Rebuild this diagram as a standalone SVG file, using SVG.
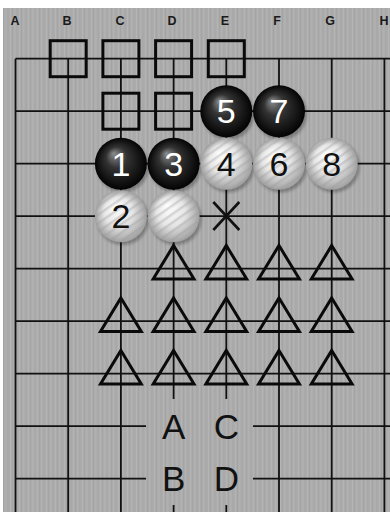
<svg xmlns="http://www.w3.org/2000/svg" width="390" height="512" viewBox="0 0 390 512">
<style>
.grid line{stroke:#111;stroke-width:1.8}
.col{font-family:"Liberation Sans",Arial,sans-serif;font-size:12.5px;font-weight:bold;fill:#1a1a1a;text-anchor:middle}
.sq{fill:none;stroke:#0a0a0a;stroke-width:3}
.tri{fill:none;stroke:#0a0a0a;stroke-width:3;stroke-linejoin:miter}
.num{font-family:"Liberation Sans",Arial,sans-serif;font-size:34px;text-anchor:middle}
.wn{fill:#fff}
.bn{fill:#111}
.lab{font-family:"Liberation Sans",Arial,sans-serif;font-size:35px;fill:#111;text-anchor:middle}
.sh{fill:#000;opacity:0.28}
</style>
<defs>
<pattern id="wood" width="9" height="20" patternUnits="userSpaceOnUse">
<rect width="9" height="20" fill="#acacac"/>
<rect x="1" width="1" height="20" fill="#b4b4b4"/>
<rect x="3" width="1" height="20" fill="#a4a4a4"/>
<rect x="5" width="1.5" height="20" fill="#b1b1b1"/>
<rect x="7.5" width="1" height="20" fill="#a6a6a6"/>
</pattern>
<radialGradient id="bg" cx="0.5" cy="0.5" r="0.5" fx="0.36" fy="0.3">
<stop offset="0" stop-color="#8c8c8c"/>
<stop offset="0.4" stop-color="#333"/>
<stop offset="1" stop-color="#030303"/>
</radialGradient>
<radialGradient id="wg" cx="0.5" cy="0.5" r="0.5" fx="0.38" fy="0.3">
<stop offset="0" stop-color="#ffffff"/>
<stop offset="0.55" stop-color="#e6e6e6"/>
<stop offset="1" stop-color="#a0a0a0"/>
</radialGradient>
<pattern id="stripe" width="7" height="7" patternUnits="userSpaceOnUse" patternTransform="rotate(-35)">
<rect width="7" height="2.5" fill="#9a9a9a" opacity="0.35"/>
</pattern>
<filter id="blur" x="-20%" y="-20%" width="140%" height="140%"><feGaussianBlur stdDeviation="1.5"/></filter>
</defs>

<g id="board">
<rect width="390" height="512" fill="#fff"/>
<rect x="3" y="8" width="387" height="504" fill="url(#wood)"/>
</g>

<g id="columns">
<text class="col" x="15" y="25">A</text>
<text class="col" x="67" y="25">B</text>
<text class="col" x="120" y="25">C</text>
<text class="col" x="172" y="25">D</text>
<text class="col" x="225" y="25">E</text>
<text class="col" x="277" y="25">F</text>
<text class="col" x="330" y="25">G</text>
<text class="col" x="384" y="25">H</text>
</g>

<g id="connectors" class="grid">
<line x1="15.5" y1="58.7" x2="390" y2="58.7"/>
<line x1="15.5" y1="111.2" x2="390" y2="111.2"/>
<line x1="15.5" y1="163.7" x2="390" y2="163.7"/>
<line x1="15.5" y1="216.2" x2="390" y2="216.2"/>
<line x1="15.5" y1="268.7" x2="390" y2="268.7"/>
<line x1="15.5" y1="321.2" x2="390" y2="321.2"/>
<line x1="15.5" y1="373.7" x2="390" y2="373.7"/>
<line x1="15.5" y1="426.2" x2="146" y2="426.2"/>
<line x1="253" y1="426.2" x2="390" y2="426.2"/>
<line x1="15.5" y1="478.7" x2="146" y2="478.7"/>
<line x1="253" y1="478.7" x2="390" y2="478.7"/>
<line x1="15.5" y1="58.7" x2="15.5" y2="512"/>
<line x1="68.2" y1="58.7" x2="68.2" y2="512"/>
<line x1="120.9" y1="58.7" x2="120.9" y2="512"/>
<line x1="173.6" y1="58.7" x2="173.6" y2="399"/>
<line x1="173.6" y1="505" x2="173.6" y2="512"/>
<line x1="226.3" y1="58.7" x2="226.3" y2="399"/>
<line x1="226.3" y1="505" x2="226.3" y2="512"/>
<line x1="279" y1="58.7" x2="279" y2="512"/>
<line x1="331.7" y1="58.7" x2="331.7" y2="512"/>
<line x1="384.4" y1="58.7" x2="384.4" y2="512"/>
</g>

<g id="squares">
<rect id="sq-B1" class="sq" x="50.2" y="40.7" width="36" height="36"/>
<rect id="sq-C1" class="sq" x="102.9" y="40.7" width="36" height="36"/>
<rect id="sq-D1" class="sq" x="155.6" y="40.7" width="36" height="36"/>
<rect id="sq-E1" class="sq" x="208.3" y="40.7" width="36" height="36"/>
<rect id="sq-C2" class="sq" x="102.9" y="93.2" width="36" height="36"/>
<rect id="sq-D2" class="sq" x="155.6" y="93.2" width="36" height="36"/>
</g>

<g id="stone-5"><circle class="sh" cx="228.3" cy="114" r="26" filter="url(#blur)"/><circle cx="226.3" cy="111.2" r="26" fill="url(#bg)"/><text class="num wn" x="226.3" y="123.4">5</text></g>
<g id="stone-7"><circle class="sh" cx="281" cy="114" r="26" filter="url(#blur)"/><circle cx="279" cy="111.2" r="26" fill="url(#bg)"/><text class="num wn" x="279" y="123.4">7</text></g>

<g id="stone-1"><circle class="sh" cx="122.9" cy="166.5" r="26" filter="url(#blur)"/><circle cx="120.9" cy="163.7" r="26" fill="url(#bg)"/><text class="num wn" x="120.9" y="175.9">1</text></g>
<g id="stone-3"><circle class="sh" cx="175.6" cy="166.5" r="26" filter="url(#blur)"/><circle cx="173.6" cy="163.7" r="26" fill="url(#bg)"/><text class="num wn" x="173.6" y="175.9">3</text></g>
<g id="stone-4"><circle class="sh" cx="228.3" cy="166.5" r="26" filter="url(#blur)"/><circle cx="226.3" cy="163.7" r="26" fill="url(#wg)"/><circle cx="226.3" cy="163.7" r="26" fill="url(#stripe)"/><text class="num bn" x="226.3" y="175.9">4</text></g>
<g id="stone-6"><circle class="sh" cx="281" cy="166.5" r="26" filter="url(#blur)"/><circle cx="279" cy="163.7" r="26" fill="url(#wg)"/><circle cx="279" cy="163.7" r="26" fill="url(#stripe)"/><text class="num bn" x="279" y="175.9">6</text></g>
<g id="stone-8"><circle class="sh" cx="333.7" cy="166.5" r="26" filter="url(#blur)"/><circle cx="331.7" cy="163.7" r="26" fill="url(#wg)"/><circle cx="331.7" cy="163.7" r="26" fill="url(#stripe)"/><text class="num bn" x="331.7" y="175.9">8</text></g>

<g id="stone-2"><circle class="sh" cx="122.9" cy="219" r="26" filter="url(#blur)"/><circle cx="120.9" cy="216.2" r="26" fill="url(#wg)"/><circle cx="120.9" cy="216.2" r="26" fill="url(#stripe)"/><text class="num bn" x="120.9" y="228.4">2</text></g>
<g id="stone-D4"><circle class="sh" cx="175.6" cy="219" r="26" filter="url(#blur)"/><circle cx="173.6" cy="216.2" r="26" fill="url(#wg)"/><circle cx="173.6" cy="216.2" r="26" fill="url(#stripe)"/></g>

<g id="mark-x"><path d="M213.3 202 L239.3 230 M239.3 202 L213.3 230" stroke="#111" stroke-width="2.6" fill="none"/></g>

<g id="triangles">
<path class="tri" d="M173.6 245.5 L194 279 L153.2 279 Z"/>
<path class="tri" d="M226.3 245.5 L246.7 279 L205.9 279 Z"/>
<path class="tri" d="M279 245.5 L299.4 279 L258.6 279 Z"/>
<path class="tri" d="M331.7 245.5 L352.1 279 L311.3 279 Z"/>
<path class="tri" d="M120.9 298 L141.3 331.5 L100.5 331.5 Z"/>
<path class="tri" d="M173.6 298 L194 331.5 L153.2 331.5 Z"/>
<path class="tri" d="M226.3 298 L246.7 331.5 L205.9 331.5 Z"/>
<path class="tri" d="M279 298 L299.4 331.5 L258.6 331.5 Z"/>
<path class="tri" d="M331.7 298 L352.1 331.5 L311.3 331.5 Z"/>
<path class="tri" d="M120.9 350.5 L141.3 384 L100.5 384 Z"/>
<path class="tri" d="M173.6 350.5 L194 384 L153.2 384 Z"/>
<path class="tri" d="M226.3 350.5 L246.7 384 L205.9 384 Z"/>
<path class="tri" d="M279 350.5 L299.4 384 L258.6 384 Z"/>
<path class="tri" d="M331.7 350.5 L352.1 384 L311.3 384 Z"/>
</g>

<g id="label-A"><text class="lab" x="173.6" y="438.5">A</text></g>
<g id="label-C"><text class="lab" x="226.3" y="438.5">C</text></g>
<g id="label-B"><text class="lab" x="173.6" y="491">B</text></g>
<g id="label-D"><text class="lab" x="226.3" y="491">D</text></g>
</svg>
